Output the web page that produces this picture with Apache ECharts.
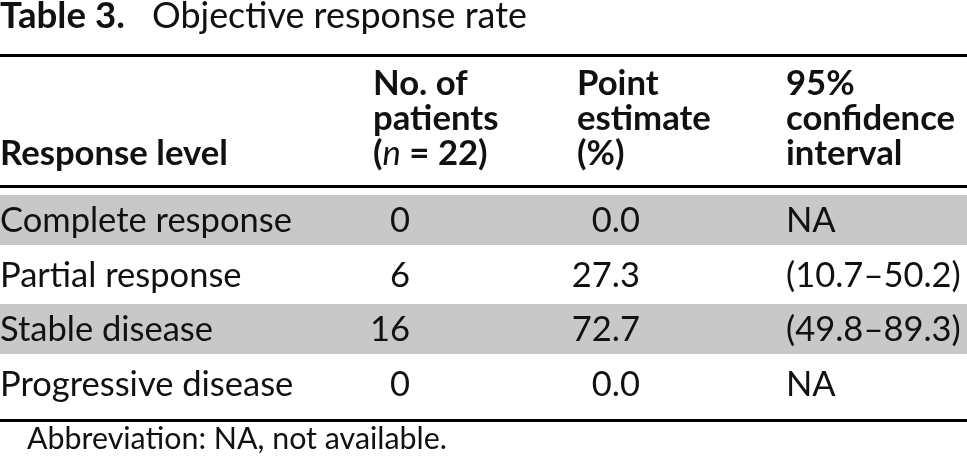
<!DOCTYPE html>
<html>
<head>
<meta charset="utf-8">
<script src="https://cdn.jsdelivr.net/npm/echarts@6/dist/echarts.min.js"></script>
<style>
html,body{margin:0;padding:0;background:#fff;}
#main{width:967px;height:459px;}
</style>
</head>
<body>
<div id="main"></div>
<script>
// ---- data ----
var tableLabel = 'Table 3.';
var tableTitle = 'Objective response rate';
var headerResponse = ['Response level'];
var headerPatients = ['No. of', 'patients', '({i|n} = 22)'];
var headerEstimate = ['Point', 'estimate', '(%)'];
var headerCI = ['95%', 'confidence', 'interval'];
var categories = ['Complete response', 'Partial response', 'Stable disease', 'Progressive disease'];
var patients = [0, 6, 16, 0];
var pointEstimate = [0.0, 27.3, 72.7, 0.0];
var ciLow = [null, 10.7, 49.8, null];
var ciHigh = [null, 50.2, 89.3, null];
var footnote = 'Abbreviation: NA, not available.';

// ---- layout / style ----
var FONT = 'Lato';
var W = 967;
var mctx = document.createElement('canvas').getContext('2d');
function fit(text, weight, target) {
  mctx.font = weight + ' 100px ' + FONT;
  return 100 * target / mctx.measureText(text).width;
}
var FS = fit('Complete response', 'normal', 292);
var HFS = fit('Response level', 'bold', 228);
var TFS_B = fit('Table 3.', 'bold', 125);
var TFS = fit('Objective response rate', 'normal', 375);
var NFS = fit('Abbreviation: NA, not available.', 'normal', 420);
var colX = { name: 0, patientsRight: 410, patientsHead: 373, estRight: 640, estHead: 577, ci: 786 };
var GRAY = '#c8c8c8';
var INK = '#111';

var chart = echarts.init(document.getElementById('main'), null, { renderer: 'canvas' });

function headerText(lines, x) {
  return {
    type: 'text',
    left: x, bottom: 459 - 171,
    style: {
      text: lines.join('\n'),
      font: 'bold ' + HFS + 'px ' + FONT,
      fill: INK,
      lineHeight: 35,
      align: 'left',
      rich: { i: { fontStyle: 'italic', fontWeight: 'normal', fontSize: HFS, fontFamily: FONT, fill: INK, lineHeight: 35 } }
    }
  };
}

var rows = categories.map(function (c, i) { return [0, i]; });

var option = {
  animation: false,
  backgroundColor: '#fff',
  grid: { left: 0, right: 0, top: 192.75, height: 218, containLabel: false },
  xAxis: { type: 'value', min: 0, max: 1, show: false },
  yAxis: { type: 'category', data: categories, inverse: true, show: false },
  graphic: [
    { type: 'rect', shape: { x: 0, y: 54, width: W, height: 3 }, style: { fill: '#000' } },
    { type: 'rect', shape: { x: 0, y: 185, width: W, height: 3 }, style: { fill: '#000' } },
    { type: 'rect', shape: { x: 0, y: 419, width: W, height: 3 }, style: { fill: '#000' } },
    { type: 'text', x: 0, y: 16.5, style: { text: tableLabel, font: 'bold ' + TFS_B + 'px ' + FONT, fill: INK, verticalAlign: 'middle' } },
    { type: 'text', x: 152, y: 16.5, style: { text: tableTitle, font: TFS + 'px ' + FONT, fill: INK, verticalAlign: 'middle' } },
    headerText(headerResponse, colX.name),
    headerText(headerPatients, colX.patientsHead),
    headerText(headerEstimate, colX.estHead),
    headerText(headerCI, colX.ci),
    { type: 'text', x: 27, y: 439, style: { text: footnote, font: NFS + 'px ' + FONT, fill: INK, verticalAlign: 'middle' } }
  ],
  series: [{
    type: 'custom',
    data: rows,
    encode: { x: 0, y: 1 },
    renderItem: function (params, api) {
      var idx = api.value(1);
      var pt = api.coord([0, idx]);
      var h = api.size([0, 1])[1];
      var cy = pt[1];
      var font = FS + 'px ' + FONT;
      var ci = ciLow[idx] == null ? 'NA' : '(' + ciLow[idx].toFixed(1) + '\u2013' + ciHigh[idx].toFixed(1) + ')';
      var children = [];
      if (idx % 2 === 0) {
        children.push({ type: 'rect', shape: { x: 0, y: cy - h / 2 + 2.25, width: W, height: h - 4.5 }, style: { fill: GRAY } });
      }
      var ty = cy + 1;
      children.push({ type: 'text', style: { text: categories[idx], x: colX.name, y: ty, font: font, fill: INK, align: 'left', verticalAlign: 'middle' } });
      children.push({ type: 'text', style: { text: String(patients[idx]), x: colX.patientsRight, y: ty, font: font, fill: INK, align: 'right', verticalAlign: 'middle' } });
      children.push({ type: 'text', style: { text: pointEstimate[idx].toFixed(1), x: colX.estRight, y: ty, font: font, fill: INK, align: 'right', verticalAlign: 'middle' } });
      children.push({ type: 'text', style: { text: ci, x: colX.ci, y: ty, font: font, fill: INK, align: 'left', verticalAlign: 'middle' } });
      return { type: 'group', children: children };
    }
  }]
};
chart.setOption(option);
</script>
</body>
</html>
